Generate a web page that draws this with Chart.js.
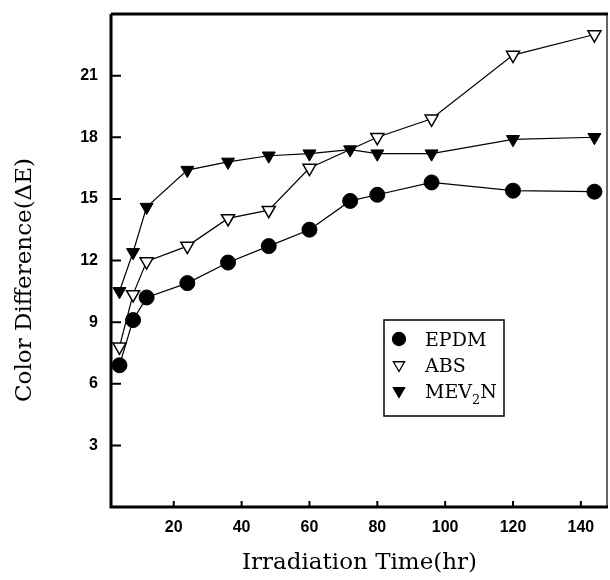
<!DOCTYPE html>
<html>
<head>
<meta charset="utf-8">
<script src="https://cdn.jsdelivr.net/npm/chart.js@4/dist/chart.umd.min.js"></script>
<style>
  body { margin: 0; background: #fff; }
  canvas { display: block; }
</style>
</head>
<body>
<canvas id="myChart" width="610" height="580"></canvas>
<script>
// irradiation times (hr)
var hours = [4, 8, 12, 24, 36, 48, 60, 72, 80, 96, 120, 144];
var absHours = [4, 8, 12, 24, 36, 48, 60, 80, 96, 120, 144];

// color difference, delta E
var epdm = [6.9, 9.1, 10.2, 10.9, 11.9, 12.7, 13.5, 14.9, 15.2, 15.8, 15.4, 15.35];
var abs = [7.8, 10.35, 11.95, 12.7, 14.05, 14.45, 16.5, 18.0, 18.9, 22.0, 23.0];
var mev2n = [10.5, 12.4, 14.6, 16.4, 16.8, 17.1, 17.2, 17.4, 17.2, 17.2, 17.9, 18.0];

var xTicks = [20, 40, 60, 80, 100, 120, 140];
var yTicks = [3, 6, 9, 12, 15, 18, 21];

var serif = '"DejaVu Serif", serif';
var tickFont = { family: '"Liberation Sans", Arial, sans-serif', size: 16, weight: 'bold' };

function pairs(xs, ys) {
  return xs.map(function (x, i) { return { x: x, y: ys[i] }; });
}

// frame, inward tick marks, y title and the boxed legend
var decorations = {
  id: 'decorations',
  afterDraw: function (chart) {
    var ctx = chart.ctx;
    var a = chart.chartArea;
    var xs = chart.scales.x, ys = chart.scales.y;
    ctx.save();
    ctx.strokeStyle = '#000';
    ctx.lineCap = 'butt';

    ctx.lineWidth = 3;
    ctx.beginPath();
    ctx.moveTo(a.left, a.top);
    ctx.lineTo(a.right, a.top);
    ctx.moveTo(a.left, a.top);
    ctx.lineTo(a.left, a.bottom);
    ctx.lineTo(a.right, a.bottom);
    ctx.stroke();
    ctx.lineWidth = 1.2;
    ctx.beginPath();
    ctx.moveTo(a.right - 1, a.top);
    ctx.lineTo(a.right - 1, a.bottom);
    ctx.stroke();

    ctx.lineWidth = 2;
    ctx.beginPath();
    yTicks.forEach(function (v) {
      var py = ys.getPixelForValue(v);
      ctx.moveTo(a.left, py);
      ctx.lineTo(a.left + 10, py);
    });
    xTicks.forEach(function (v) {
      var px = xs.getPixelForValue(v);
      ctx.moveTo(px, a.bottom);
      ctx.lineTo(px, a.bottom - 6);
    });
    ctx.stroke();

    // y axis title
    ctx.fillStyle = '#000';
    ctx.font = '23px ' + serif;
    ctx.textAlign = 'center';
    ctx.textBaseline = 'middle';
    ctx.translate(25, 280);
    ctx.rotate(-Math.PI / 2);
    ctx.fillText('Color Difference(ΔE)', 0, 0);
    ctx.setTransform(1, 0, 0, 1, 0, 0);

    // legend
    var lx = 384, ly = 320, lw = 120, lh = 96;
    ctx.fillStyle = '#fff';
    ctx.fillRect(lx, ly, lw, lh);
    ctx.lineWidth = 1.5;
    ctx.strokeRect(lx, ly, lw, lh);
    ctx.textAlign = 'left';
    ctx.textBaseline = 'alphabetic';
    chart.data.datasets.forEach(function (ds, i) {
      var cy = ly + 19 + i * 26;
      ctx.fillStyle = ds.pointBackgroundColor;
      ctx.strokeStyle = '#000';
      ctx.lineWidth = 1.3;
      Chart.helpers.drawPoint(ctx, {
        pointStyle: ds.pointStyle,
        rotation: ds.pointRotation || 0,
        radius: 6.5,
        borderWidth: 1.3
      }, lx + 15, cy);
      ctx.fillStyle = '#000';
      ctx.font = '19px ' + serif;
      var tx = lx + 41, base = cy + 7;
      if (ds.label === 'MEV2N') {
        ctx.fillText('MEV', tx, base);
        tx += ctx.measureText('MEV').width;
        ctx.font = '13px ' + serif;
        ctx.fillText('2', tx, base + 6);
        tx += ctx.measureText('2').width;
        ctx.font = '19px ' + serif;
        ctx.fillText('N', tx, base);
      } else {
        ctx.fillText(ds.label, tx, base);
      }
    });
    ctx.restore();
  }
};

var ctx = document.getElementById('myChart').getContext('2d');
var chart = new Chart(ctx, {
  type: 'line',
  data: {
    datasets: [{
      label: 'EPDM',
      data: pairs(hours, epdm),
      borderColor: '#000',
      borderWidth: 1.2,
      pointStyle: 'circle',
      pointRadius: 7.5,
      pointBackgroundColor: '#000',
      pointBorderColor: '#000',
      pointBorderWidth: 1
    }, {
      label: 'ABS',
      data: pairs(absHours, abs),
      borderColor: '#000',
      borderWidth: 1.2,
      pointStyle: 'triangle',
      pointRotation: 180,
      pointRadius: 7.5,
      pointBackgroundColor: '#fff',
      pointBorderColor: '#000',
      pointBorderWidth: 1.5
    }, {
      label: 'MEV2N',
      data: pairs(hours, mev2n),
      borderColor: '#000',
      borderWidth: 1.2,
      pointStyle: 'triangle',
      pointRotation: 180,
      pointRadius: 7.5,
      pointBackgroundColor: '#000',
      pointBorderColor: '#000',
      pointBorderWidth: 1
    }]
  },
  options: {
    responsive: false,
    animation: false,
    layout: { autoPadding: false, padding: { top: 14, right: 2, left: 0, bottom: 0 } },
    plugins: {
      legend: { display: false },
      tooltip: { enabled: false }
    },
    elements: { line: { tension: 0, fill: false } },
    scales: {
      x: {
        type: 'linear',
        min: 1.5,
        max: 148,
        grid: { display: false, drawTicks: false },
        border: { display: false },
        afterBuildTicks: function (s) { s.ticks = xTicks.map(function (v) { return { value: v }; }); },
        afterFit: function (s) { s.height = 73; s.paddingLeft = 0; s.paddingRight = 0; },
        ticks: { color: '#000', font: tickFont, padding: 11, maxRotation: 0 },
        title: {
          display: true,
          text: 'Irradiation Time(hr)',
          color: '#000',
          font: { family: serif, size: 23 },
          padding: { top: 0, bottom: 3 }
        }
      },
      y: {
        min: 0,
        max: 24,
        grid: { display: false, drawTicks: false },
        border: { display: false },
        afterBuildTicks: function (s) { s.ticks = yTicks.map(function (v) { return { value: v }; }); },
        afterFit: function (s) { s.width = 111; s.paddingTop = 0; s.paddingBottom = 0; },
        ticks: { color: '#000', font: tickFont, padding: 13 }
      }
    }
  },
  plugins: [decorations]
});
</script>
</body>
</html>
